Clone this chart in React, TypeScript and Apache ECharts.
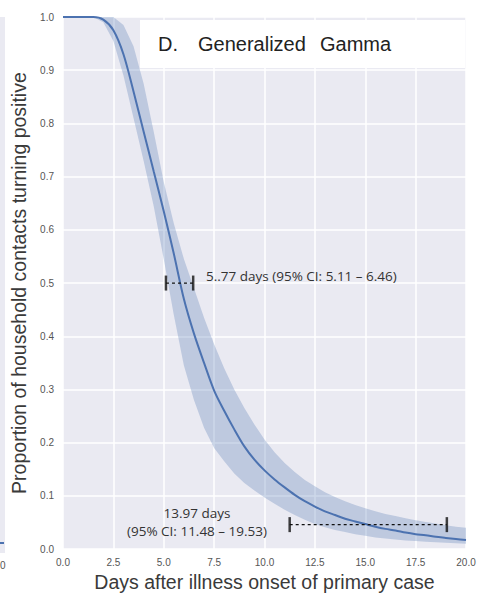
import React, { useEffect, useRef } from "react";
import * as echarts from "echarts";

const xDays = [0, 0.5, 1, 1.5, 2, 2.5, 3, 3.5, 4, 4.5, 5, 5.5, 6, 6.5, 7, 7.5, 8, 8.5, 9, 9.5, 10, 10.5, 11, 11.5, 12, 12.5, 13, 13.5, 14, 14.5, 15, 15.5, 16, 16.5, 17, 17.5, 18, 18.5, 19, 19.5, 20];
const median = [1, 1, 1, 1, 0.995, 0.975, 0.93, 0.86, 0.785, 0.71, 0.635, 0.555, 0.47, 0.405, 0.35, 0.298, 0.26, 0.225, 0.193, 0.168, 0.148, 0.131, 0.116, 0.102, 0.09, 0.08, 0.071, 0.064, 0.057, 0.052, 0.047, 0.042, 0.038, 0.035, 0.031, 0.028, 0.026, 0.023, 0.021, 0.019, 0.017];
const lower = [1, 1, 1, 1, 0.99, 0.955, 0.89, 0.81, 0.73, 0.645, 0.545, 0.44, 0.345, 0.28, 0.228, 0.19, 0.165, 0.142, 0.124, 0.11, 0.097, 0.085, 0.074, 0.064, 0.055, 0.047, 0.041, 0.036, 0.032, 0.028, 0.025, 0.022, 0.02, 0.018, 0.016, 0.015, 0.014, 0.013, 0.012, 0.011, 0.01];
const upper = [1, 1, 1, 1, 1, 1, 0.985, 0.945, 0.875, 0.785, 0.69, 0.612, 0.545, 0.49, 0.435, 0.385, 0.34, 0.3, 0.265, 0.234, 0.206, 0.182, 0.162, 0.145, 0.13, 0.118, 0.107, 0.098, 0.09, 0.083, 0.077, 0.071, 0.066, 0.062, 0.058, 0.054, 0.051, 0.048, 0.045, 0.042, 0.04];

const medianBarX = [5.11, 6.46];
const medianBarY = 0.5;
const tailBarX = [11.25, 19.05];
const tailBarY = 0.046;

const medianLabel = "5..77 days (95% CI: 5.11 – 6.46)";
const tailLabel1 = "13.97 days";
const tailLabel2 = "(95% CI: 11.48 – 19.53)";
const panelTitle = "D.";
const panelTitleWord1 = "Generalized";
const panelTitleWord2 = "Gamma";
const xTitle = "Days after illness onset of primary case";
const yTitle = "Proportion of household contacts turning positive";

export default function App() {
  const ref = useRef<HTMLDivElement>(null);
  useEffect(() => {
    document.body.style.margin = "0";
    const chart = echarts.init(ref.current!, null, { renderer: "svg" });
    const blue = "#4c72b0";
    const font = "'Liberation Sans', Arial, sans-serif";
    const noteFont = "'Open Sans', sans-serif";
    const bandPts: number[][] = [];
    xDays.forEach((x, i) => bandPts.push([x, upper[i]]));
    for (let i = xDays.length - 1; i >= 0; i--) bandPts.push([xDays[i], lower[i]]);

    chart.setOption({
      animation: false,
      backgroundColor: "#ffffff",
      grid: { left: 63, right: 14, top: 17, bottom: 44, show: true, backgroundColor: "#eaeaf2", borderWidth: 0 },
      xAxis: {
        type: "value", min: 0, max: 20, interval: 2.5,
        name: xTitle, nameLocation: "middle", nameGap: 22,
        nameTextStyle: { fontFamily: font, fontSize: 19.5, color: "#3a3a3a" },
        axisLine: { show: false }, axisTick: { show: false },
        axisLabel: { formatter: (v: number) => v.toFixed(1), fontFamily: font, fontSize: 10, color: "#555", margin: 8 },
        splitLine: { show: true, lineStyle: { color: "#ffffff", width: 1.5 } },
      },
      yAxis: {
        type: "value", min: 0, max: 1, interval: 0.1,
        name: yTitle, nameLocation: "middle", nameGap: 33,
        nameTextStyle: { fontFamily: font, fontSize: 19.5, color: "#3a3a3a" },
        axisLine: { show: false }, axisTick: { show: false },
        axisLabel: { formatter: (v: number) => v.toFixed(1), fontFamily: font, fontSize: 10, color: "#555", margin: 9 },
        splitLine: { show: true, lineStyle: { color: "#ffffff", width: 1.5 } },
      },
      graphic: [
        { type: "rect", left: 0, top: 17, shape: { width: 5, height: 536 }, style: { fill: "#eaeaf2" }, z: -1 },
        { type: "line", shape: { x1: 0, y1: 543, x2: 4, y2: 543 }, style: { stroke: blue, lineWidth: 2 } },
        { type: "text", x: 0, y: 565, style: { text: "0", fontFamily: font, fontSize: 10, fill: "#555", align: "left", verticalAlign: "middle" } },
        { type: "rect", shape: { x: 140, y: 20, width: 325, height: 48 }, style: { fill: "#ffffff" }, z: 10 },
        { type: "text", x: 158, y: 44, style: { text: panelTitle, fontFamily: font, fontSize: 20, fill: "#222", verticalAlign: "middle" }, z: 11 },
        { type: "text", x: 198, y: 44, style: { text: panelTitleWord1, fontFamily: font, fontSize: 20, fill: "#222", verticalAlign: "middle" }, z: 11 },
        { type: "text", x: 320, y: 44, style: { text: panelTitleWord2, fontFamily: font, fontSize: 20, fill: "#222", verticalAlign: "middle" }, z: 11 },
        { type: "text", x: 206, y: 276, style: { text: medianLabel, fontFamily: noteFont, fontSize: 13.5, fill: "#333", verticalAlign: "middle" }, z: 11 },
        { type: "text", x: 197, y: 513, style: { text: tailLabel1, fontFamily: noteFont, fontSize: 13.5, fill: "#333", align: "center", verticalAlign: "middle" }, z: 11 },
        { type: "text", x: 197, y: 531, style: { text: tailLabel2, fontFamily: noteFont, fontSize: 13.5, fill: "#333", align: "center", verticalAlign: "middle" }, z: 11 },
      ],
      series: [
        {
          type: "custom",
          data: [0],
          silent: true,
          clip: false,
          z: 1,
          renderItem: (_p: any, api: any) => ({
            type: "polygon",
            shape: { points: bandPts.map((p) => api.coord(p)) },
            style: { fill: "rgba(76,114,176,0.28)" },
          }),
        },
        {
          type: "line",
          data: xDays.map((x, i) => [x, median[i]]),
          showSymbol: false,
          smooth: 0.3,
          clip: false,
          z: 3,
          lineStyle: { color: blue, width: 2 },
        },
        {
          type: "line",
          data: medianBarX.map((x) => [x, medianBarY]),
          showSymbol: false,
          z: 4,
          lineStyle: { color: "#111", width: 1.2, type: [3, 3] },
        },
        {
          type: "scatter",
          data: medianBarX.map((x) => [x, medianBarY]),
          symbol: "rect",
          symbolSize: [2.5, 15],
          z: 5,
          itemStyle: { color: "#111" },
        },
        {
          type: "line",
          data: tailBarX.map((x) => [x, tailBarY]),
          showSymbol: false,
          z: 4,
          lineStyle: { color: "#111", width: 1.2, type: [3, 3] },
        },
        {
          type: "scatter",
          data: tailBarX.map((x) => [x, tailBarY]),
          symbol: "rect",
          symbolSize: [2.5, 15],
          z: 5,
          itemStyle: { color: "#111" },
        },
      ],
    });
    return () => chart.dispose();
  }, []);
  return <div ref={ref} style={{ width: 480, height: 597 }} />;
}
